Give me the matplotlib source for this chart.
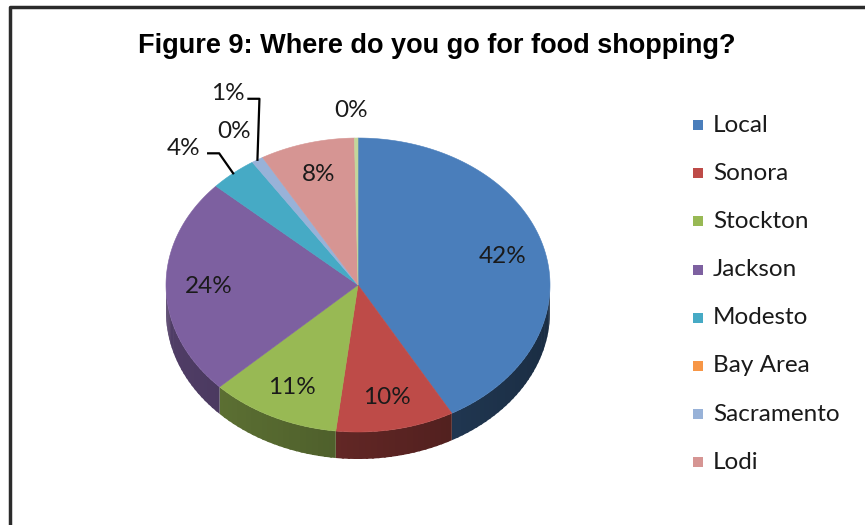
import numpy as np
import matplotlib.pyplot as plt
from matplotlib.patches import Polygon, Rectangle
from matplotlib import colors as mcolors

# survey answers, percent of respondents
places = ["Local", "Sonora", "Stockton", "Jackson", "Modesto",
          "Bay Area", "Sacramento", "Lodi", "Other"]
shares = [42, 10, 11, 24, 4, 0, 1, 8, 0.3]
slice_colors = ["#4A7EBB", "#BE4B48", "#98B954", "#7D60A0", "#46AAC5",
                "#F79646", "#98B2D8", "#D69593", "#C3D69B"]
legend_count = 8  # last entry falls outside the chart frame

# pie geometry in pixel units
cx, cy = 358, 285
rx, ry = 192, 147
depth = 27

# small slices get their labels outside: text offset and optional leader elbow
outside = {
    "Modesto": ((-50, -25), (-14, -20)),
    "Bay Area": ((-18, -31), None),
    "Sacramento": ((-30, -66), (2, -61)),
    "Other": ((-5, -28), None),
}

fig = plt.figure(figsize=(8.65, 5.25), dpi=100)
ax = fig.add_axes([0, 0, 1, 1])
ax.set_xlim(0, 865)
ax.set_ylim(525, 0)
ax.axis("off")

# frame around the chart area
ax.plot([10, 10, 865], [525, 7, 7], color="#2b2b2b", lw=2.5, solid_capstyle="butt")


def pt(theta, f=1.0):
    return cx + f * rx * np.cos(theta), cy - f * ry * np.sin(theta)


def shade(c, k):
    r, g, b = mcolors.to_rgb(c)
    return (r * k, g * k, b * k)


vals = np.array(shares, dtype=float)
fracs = vals / vals.sum()
ends = np.pi / 2 - 2 * np.pi * np.cumsum(fracs)
starts = ends + 2 * np.pi * fracs

# outer wall (front half only), drawn in thin overlapping strips for a soft gradient
for t0, t1, col, f in zip(starts, ends, slice_colors, fracs):
    if f == 0:
        continue
    a0, a1 = np.mod(t1, 2 * np.pi), np.mod(t0, 2 * np.pi)
    if a1 < a0:
        a1 += 2 * np.pi
    lo, hi = max(a0, np.pi), min(a1, 2 * np.pi)
    if hi <= lo:
        continue
    edges = np.linspace(lo, hi, max(2, int((hi - lo) / 0.03) + 1))
    for s0, s1 in zip(edges[:-1], edges[1:]):
        th = np.linspace(s0, min(s1 + 0.012, hi), 4)
        xs, ys = pt(th)
        poly = np.column_stack([np.r_[xs, xs[::-1]], np.r_[ys, ys[::-1] + depth]])
        k = 0.5 - 0.14 * np.cos((s0 + s1) / 2)
        ax.add_patch(Polygon(poly, closed=True, fc=shade(col, k), ec="none"))

# top faces
for t0, t1, col, f in zip(starts, ends, slice_colors, fracs):
    if f == 0:
        continue
    th = np.linspace(t0, t1, max(3, int(abs(t0 - t1) / 0.01)))
    xs, ys = pt(th)
    poly = np.column_stack([np.r_[cx, xs], np.r_[cy, ys]])
    ax.add_patch(Polygon(poly, closed=True, fc=col, ec=col, lw=0.4))

label_font = dict(family=["Lato", "DejaVu Sans"], fontsize=17.5, color="#1a1a1a")

for name, f, t0, t1 in zip(places, fracs, starts, ends):
    mid = (t0 + t1) / 2
    txt = f"{f * 100:.0f}%"
    if name in outside:
        (dx, dy), elbow = outside[name]
        ex, ey = pt(mid)
        ax.text(ex + dx, ey + dy, txt, ha="center", va="center", **label_font)
        if elbow is not None:
            bx, by = ex + elbow[0], ey + elbow[1]
            ax.plot([ex, bx, bx - 11], [ey, by, by], color="black", lw=1.6)
    else:
        x, y = pt(mid, 0.78)
        ax.text(x, y, txt, ha="center", va="center", **label_font)

# legend
for i in range(legend_count):
    y = 125 + 48.2 * i
    ax.add_patch(Rectangle((693, y - 5), 10, 10, fc=slice_colors[i], ec="none"))
    ax.text(713, y, places[i], ha="left", va="center", **label_font)

ax.text(437, 46, "Figure 9: Where do you go for food shopping?", ha="center",
        va="center", family=["Liberation Sans"], fontsize=19.5,
        fontweight="bold", color="black")

fig.savefig("out.png", dpi=100)
